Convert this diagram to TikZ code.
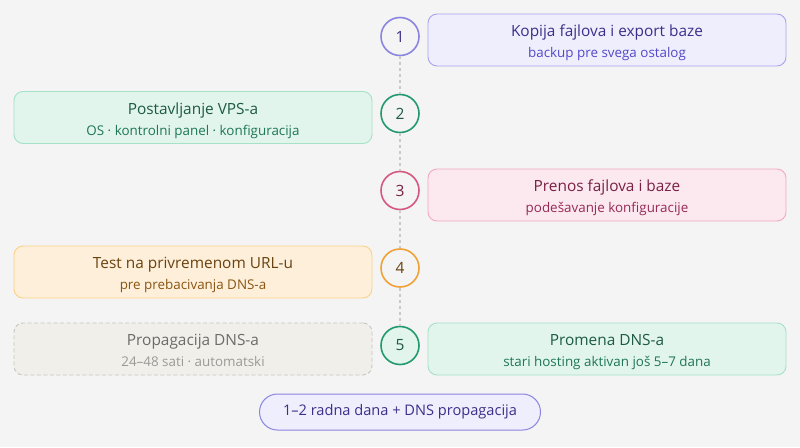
\documentclass[tikz,border=0pt]{standalone}
\usepackage{fontspec}
\setmainfont{Open Sans}
\definecolor{bg}{HTML}{F3F4F3}
\definecolor{pF}{HTML}{EEEEFC}\definecolor{pB}{HTML}{A9A3EE}\definecolor{pC}{HTML}{8B84E0}\definecolor{pT}{HTML}{3B2F8A}\definecolor{pS}{HTML}{5548C8}
\definecolor{gF}{HTML}{E1F5EC}\definecolor{gB}{HTML}{A6E1C8}\definecolor{gC}{HTML}{22996E}\definecolor{gT}{HTML}{1D5A44}\definecolor{gS}{HTML}{1F7656}
\definecolor{rF}{HTML}{FCE8EF}\definecolor{rB}{HTML}{F2A9C1}\definecolor{rC}{HTML}{D6577F}\definecolor{rT}{HTML}{7A2044}\definecolor{rS}{HTML}{962A56}
\definecolor{oF}{HTML}{FDEFD9}\definecolor{oB}{HTML}{FBD18C}\definecolor{oC}{HTML}{F0A236}\definecolor{oT}{HTML}{6B4210}\definecolor{oS}{HTML}{8A5512}
\definecolor{nF}{HTML}{F1EFEA}\definecolor{nB}{HTML}{C6C6C2}\definecolor{nT}{HTML}{6B6B68}\definecolor{nS}{HTML}{9A9A96}
\definecolor{lineC}{HTML}{C9C9C5}
\tikzset{
  box/.style={draw, line width=0.9pt, rounded corners=9pt, minimum width=358pt, minimum height=52pt, inner sep=0pt},
  numc/.style={circle, line width=1.6pt, minimum size=38pt, inner sep=0pt, font=\fontsize{15.5}{18}\selectfont},
  ttl/.style={anchor=base, font=\fontsize{15.4}{18}\selectfont, inner sep=0pt},
  sub/.style={anchor=base, font=\fontsize{13.4}{16}\selectfont, inner sep=0pt},
  dline/.style={lineC, line width=1.5pt, dash pattern=on 3pt off 3pt},
}
\begin{document}
\begin{tikzpicture}[x=1pt,y=-1pt]
\fill[bg] (0,0) rectangle (800,447);
\useasboundingbox (0,0) rectangle (800,447);
% circles
\node[numc, draw=pC, fill=bg, text=pT] (c1) at (400,36.5) {1};
\node[numc, draw=gC, fill=bg, text=gT] (c2) at (400,113.5) {2};
\node[numc, draw=rC, fill=bg, text=rT] (c3) at (400,190.5) {3};
\node[numc, draw=oC, fill=bg, text=oT] (c4) at (400,268) {4};
\node[numc, draw=gC, fill=gF, text=gT] (c5) at (400,345.5) {5};
\draw[dline] (c1) -- (c2);
\draw[dline] (c2) -- (c3);
\draw[dline] (c3) -- (c4);
\draw[dline] (c4) -- (c5);
% boxes
\node[box, draw=pB, fill=pF] (b1) at (607,40) {};
\node[ttl, text=pT] (t1) at (607,36.5) {Kopija fajlova i export baze};
\node[sub, text=pS] (s1) at (607,57.5) {backup pre svega ostalog};

\node[box, draw=gB, fill=gF] (b2) at (193,117.5) {};
\node[ttl, text=gT] (t2) at (193,114) {Postavljanje VPS-a};
\node[sub, text=gS] (s2) at (193,135) {OS · kontrolni panel · konfiguracija};

\node[box, draw=rB, fill=rF] (b3) at (607,195) {};
\node[ttl, text=rT] (t3) at (607,191.5) {Prenos fajlova i baze};
\node[sub, text=rS] (s3) at (607,212.5) {podešavanje konfiguracije};

\node[box, draw=oB, fill=oF] (b4) at (193,272) {};
\node[ttl, text=oT] (t4) at (193,268.5) {Test na privremenom URL-u};
\node[sub, text=oS] (s4) at (193,289.5) {pre prebacivanja DNS-a};

\node[box, draw=nB, fill=nF, dash pattern=on 4pt off 2.5pt] (b5) at (193,349) {};
\node[ttl, text=nT] (t5) at (193,345.5) {Propagacija DNS-a};
\node[sub, text=nS] (s5) at (193,366.5) {24–48 sati · automatski};

\node[box, draw=gB, fill=gF] (b6) at (607,349) {};
\node[ttl, text=gT] (t6) at (607,345.5) {Promena DNS-a};
\node[sub, text=gS] (s6) at (607,366.5) {stari hosting aktivan još 5–7 dana};

% pill
\node[draw=pC, fill=pF, line width=1pt, rounded corners=18pt, minimum width=281pt, minimum height=36pt, inner sep=0pt, text=pT, font=\fontsize{14.6}{17}\selectfont] (pill) at (400,412) {1–2 radna dana + DNS propagacija};
\end{tikzpicture}
\end{document}
